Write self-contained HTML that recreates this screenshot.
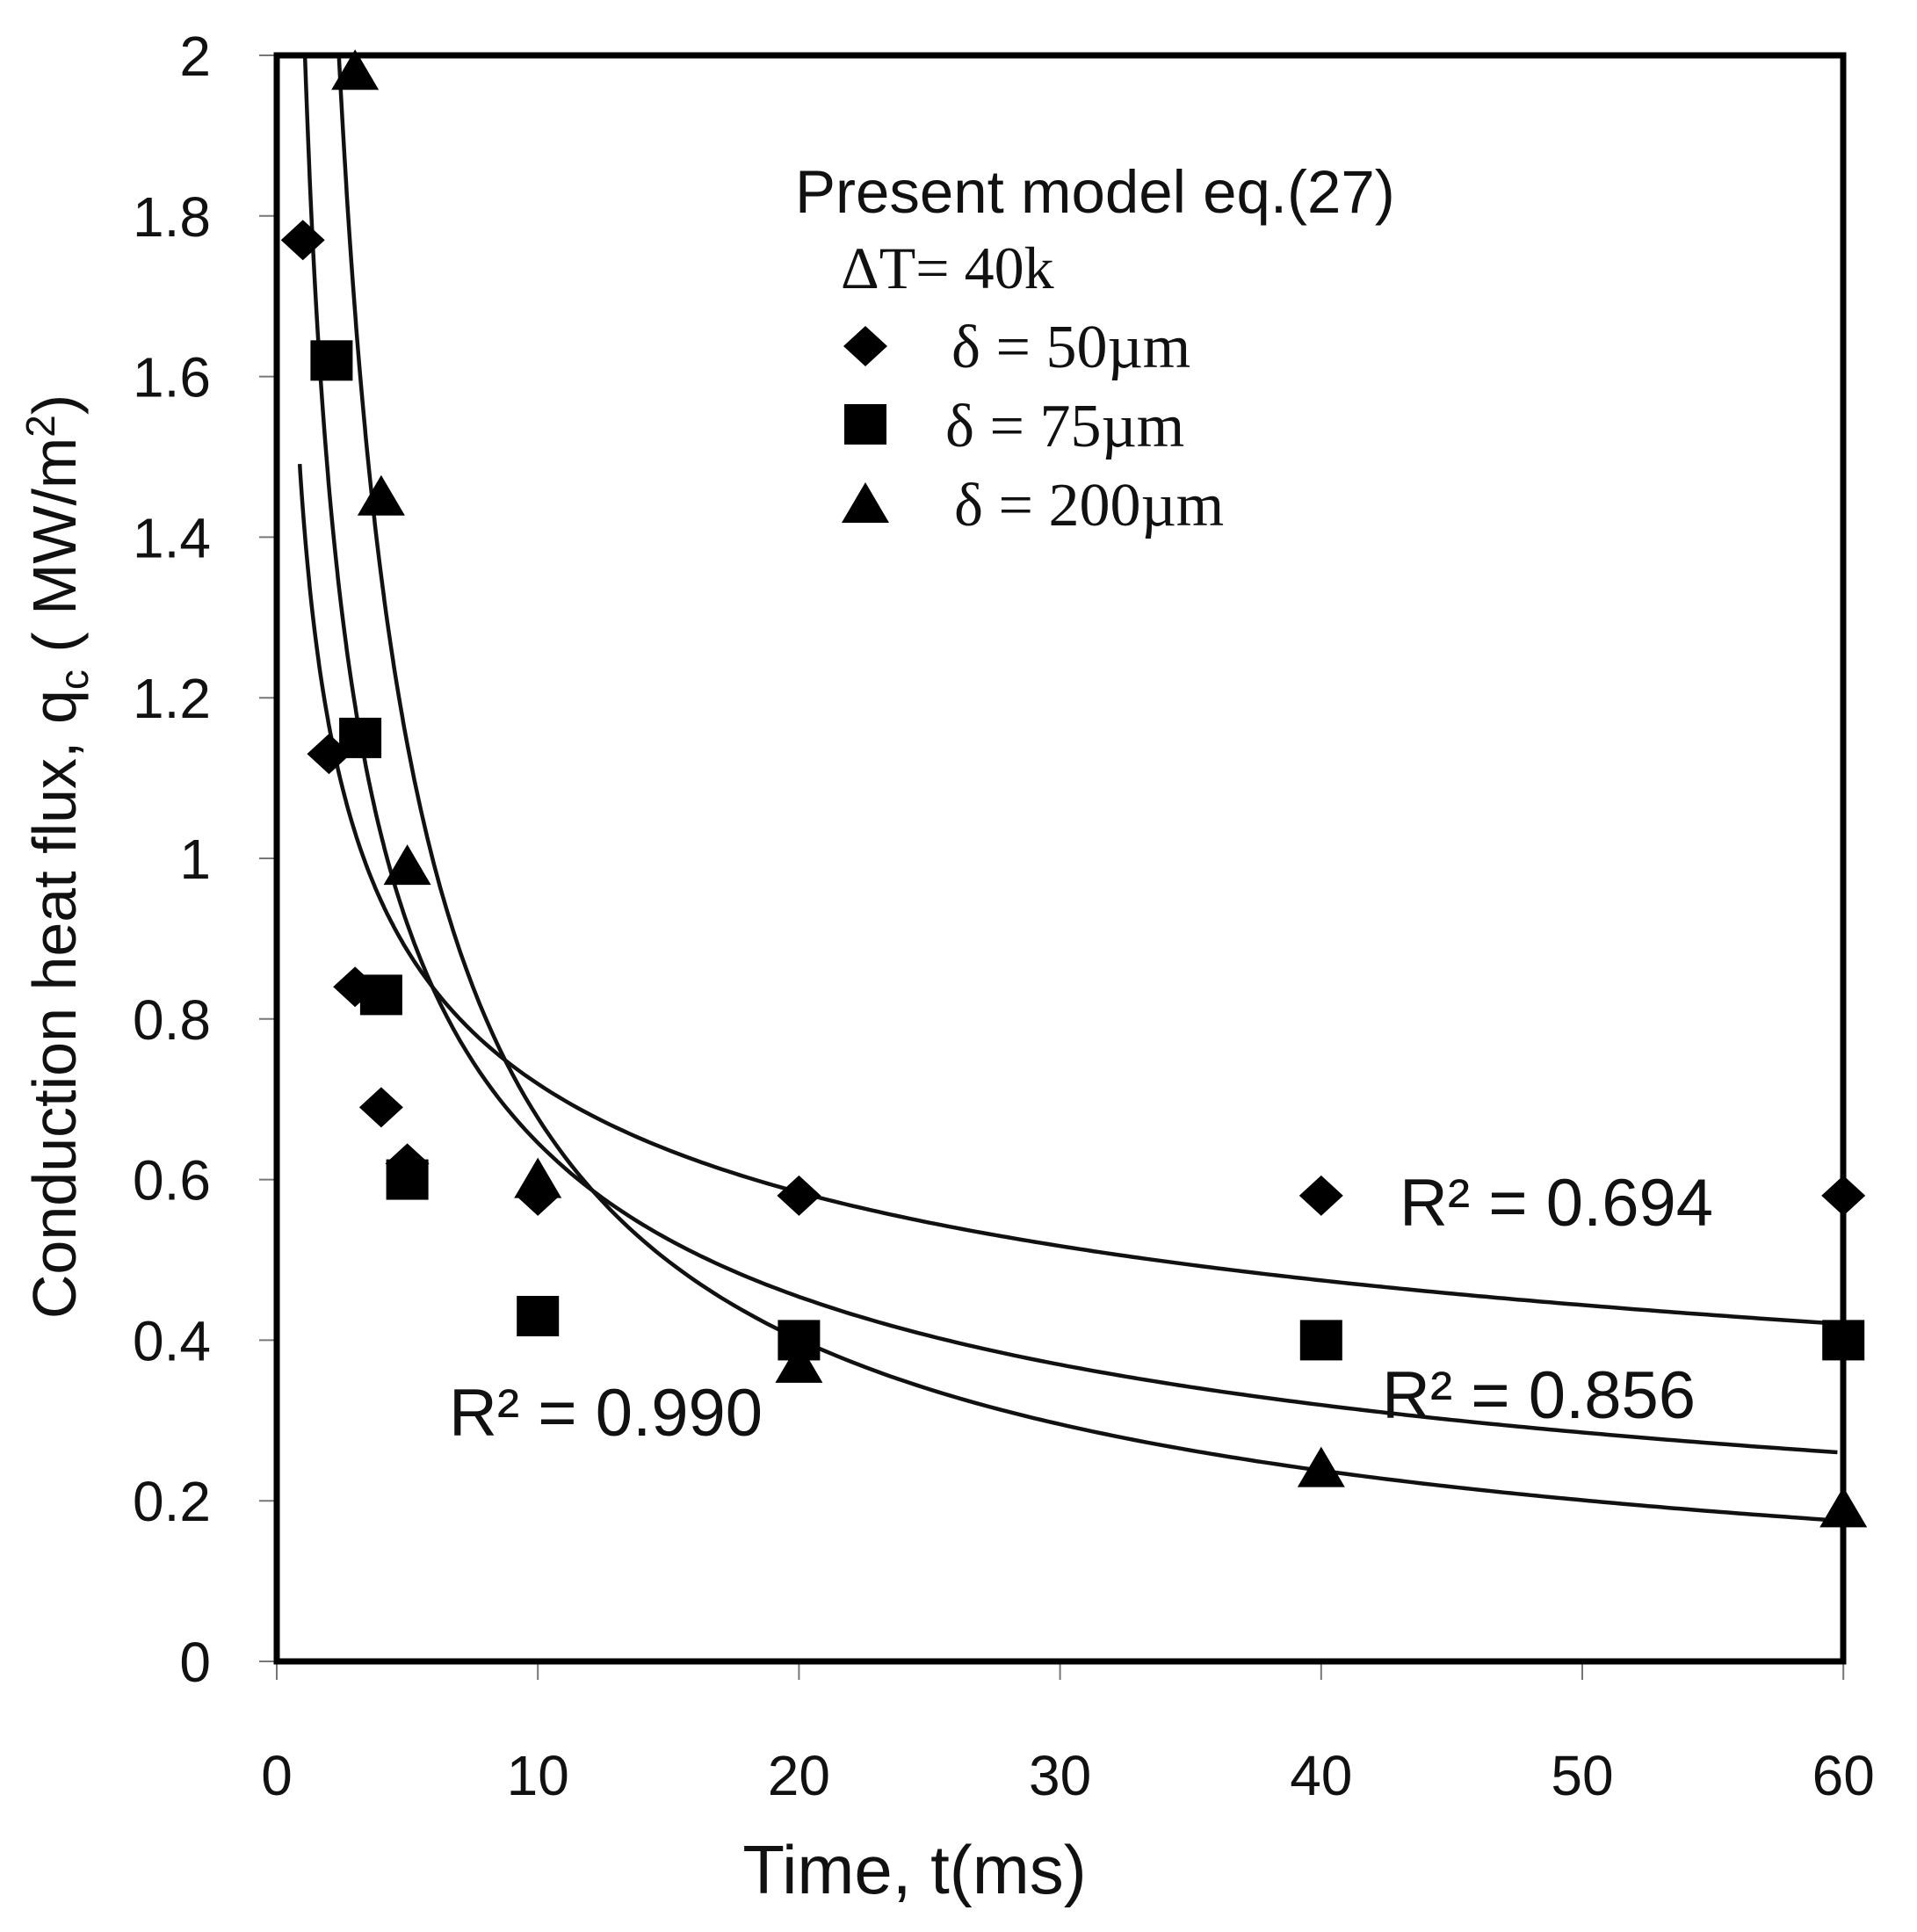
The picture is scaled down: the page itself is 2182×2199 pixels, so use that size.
<!DOCTYPE html>
<html><head><meta charset="utf-8"><style>
html,body{margin:0;padding:0;background:#fff}
svg{display:block}
text{font-family:"Liberation Sans",sans-serif;fill:#111}
.s{font-family:"Liberation Serif",serif}
</style></head><body>
<svg id="c" width="2182" height="2199" viewBox="0 0 2182 2199" xmlns="http://www.w3.org/2000/svg">
<defs><clipPath id="cl"><rect x="315" y="63" width="1783" height="1828"/></clipPath></defs>
<g id="ticks" stroke="#777" stroke-width="2"></g>
<g id="curves" clip-path="url(#cl)" fill="none" stroke="#111" stroke-width="4.5"></g>
<rect x="315" y="63" width="1783" height="1828" fill="none" stroke="#000" stroke-width="7"/>
<g id="marks" fill="#000"></g>
<g id="lab" font-size="64"></g>
<text x="905" y="242" font-size="69">Present model eq.(27)</text>
<text x="957" y="328" font-size="68" class="s">ΔT= 40k</text>
<text x="1083" y="418" font-size="70" class="s">δ = 50µm</text>
<text x="1076" y="508" font-size="70" class="s">δ = 75µm</text>
<text x="1086" y="598" font-size="70" class="s">δ = 200µm</text>
<text x="1593" y="1395" font-size="76">R² = 0.694</text>
<text x="1573" y="1614" font-size="76">R² = 0.856</text>
<text x="511" y="1634" font-size="76">R² = 0.990</text>
<text x="1041" y="2155" font-size="78" text-anchor="middle">Time, t(ms)</text>
<text transform="translate(86,975) rotate(-90)" font-size="70" text-anchor="middle">Conduction heat flux, q<tspan font-size="46" dy="14">c</tspan><tspan dy="-14"> ( MW/m</tspan><tspan font-size="46" dy="-24">2</tspan><tspan dy="24">)</tspan></text>
</svg>
<script>
var NS="http://www.w3.org/2000/svg";
function X(t){return 315+t*29.72}
function Y(v){return 1891-v*914}
function el(p,n,a){var e=document.createElementNS(NS,n);for(var k in a)e.setAttribute(k,a[k]);p.appendChild(e);return e}
var tk=document.getElementById('ticks'),lab=document.getElementById('lab');
for(var i=0;i<=10;i++){var v=i*0.2,y=Y(v);el(tk,'line',{x1:295,x2:315,y1:y,y2:y});
 var t=el(lab,'text',{x:240,y:y+23,'text-anchor':'end'});t.textContent=(i==0?'0':(i==5?'1':(i==10?'2':v.toFixed(1))));}
for(var i=0;i<=6;i++){var x=X(i*10);el(tk,'line',{x1:x,x2:x,y1:1891,y2:1912});
 var t=el(lab,'text',{x:x,y:2043,'text-anchor':'middle'});t.textContent=i*10;}
var cv=document.getElementById('curves');
function curve(a,b,t0){var d='';for(var t=t0;t<=60.001;t+=(t<5?0.02:0.25)){d+=(d?'L':'M')+X(t).toFixed(1)+','+Y(a*Math.pow(t,-b)).toFixed(1);}el(cv,'path',{d:d});}
curve(1.435,0.30,0.88);curve(2.08,0.508,0.8);curve(3.85,0.755,2.0);
var mk=document.getElementById('marks');
function dia(x,y){el(mk,'polygon',{points:(x-25)+','+y+' '+x+','+(y-23)+' '+(x+25)+','+y+' '+x+','+(y+23)})}
function sq(x,y){el(mk,'rect',{x:x-24,y:y-23,width:48,height:46})}
function tri(x,y){el(mk,'polygon',{points:(x-27)+','+(y+21)+' '+(x+27)+','+(y+21)+' '+x+','+(y-25)})}
[[1,1.77],[2,1.13],[3,0.84],[4,0.69],[5,0.62],[10,0.58],[20,0.58],[40,0.58],[60,0.58]].forEach(function(p){dia(X(p[0]),Y(p[1]))});
[[2.1,1.62],[3.2,1.15],[4,0.83],[5,0.60],[10,0.43],[20,0.40],[40,0.40],[60,0.40]].forEach(function(p){sq(X(p[0]),Y(p[1]))});
[[3,1.98],[4,1.45],[5,0.99],[10,0.60],[20,0.37],[40,0.24],[60,0.19]].forEach(function(p){tri(X(p[0]),Y(p[1]))});
dia(985,394);sq(985,483);tri(985,574);
</script>
</body></html>
